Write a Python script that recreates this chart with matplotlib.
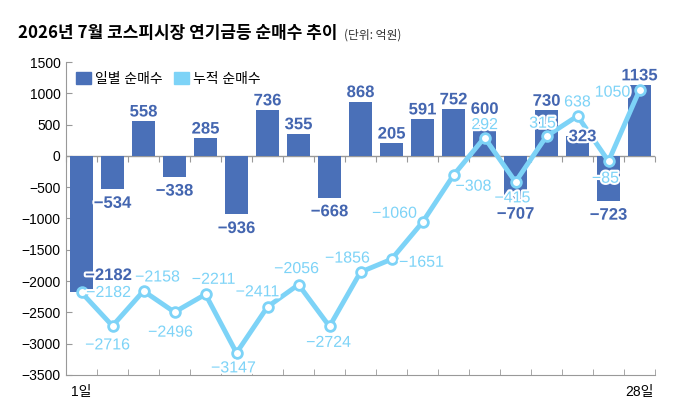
import numpy as np
import matplotlib.pyplot as plt
import matplotlib.patheffects as pe
from matplotlib.patches import Patch

plt.rcParams['font.family'] = ['Liberation Sans Narrow', 'Liberation Sans', 'Noto Sans CJK KR']

# 데이터 (억원)
days = ['1일'] + [''] * 17 + ['28일']
daily = [-2182, -534, 558, -338, 285, -936, 736, 355, -668, 868,
         205, 591, 752, 600, -707, 730, 323, -723, 1135]
cumul = [-2182, -2716, -2158, -2496, -2211, -3147, -2411, -2056, -2724, -1856,
         -1651, -1060, -308, 292, -415, 315, 638, -85, 1050]

bar_c = '#4a70b8'
bar_txt = '#4466b0'
line_c = '#7dd3f7'
halo = [pe.withStroke(linewidth=3, foreground='white')]

# 라벨 위치 보정 (pixel)
line_off = [(27, 0), (-5, -19), (14, 14), (-4, -20), (8, 15), (-3, -15), (-10, 15),
            (-2, 16), (-1, -16), (-13, 14), (30, -3), (-28, 9), (20, -11), (0, 13),
            (-3, -16), (-4, 13), (0, 14), (-3, -17), (-27, -2)]
bar_off = {0: (27, 17), 16: (5, -1)}

fig = plt.figure(figsize=(6.8, 4.16), dpi=100)
ax = fig.add_axes([66/680, 41/416, 589/680, 313/416])

x = np.arange(len(daily))
ax.bar(x, daily, width=0.72, color=bar_c, zorder=2)
ax.plot(x, cumul, color=line_c, lw=3.5, marker='o', ms=7, mfc='white',
        mec=line_c, mew=2, zorder=3)

for i, v in enumerate(daily):
    dx, dy = bar_off.get(i, (0, 9 if v > 0 else -14))
    ax.annotate(f'{v}'.replace('-', '−'), (i, v), xytext=(dx, dy), textcoords='offset pixels',
                ha='center', va='center', fontsize=12, fontweight='bold', color=bar_txt,
                path_effects=halo, zorder=4)

for i, v in enumerate(cumul):
    dx, dy = line_off[i]
    ax.annotate(f'{v}'.replace('-', '−'), (i, v), xytext=(dx, dy), textcoords='offset pixels',
                ha='center', va='center', fontsize=11.5, color=line_c,
                path_effects=halo, zorder=5)

ax.set_xlim(-0.5, len(daily) - 0.5)
ax.set_ylim(-3500, 1500)
ax.set_yticks(np.arange(-3500, 1501, 500))
ax.set_yticklabels([f'{t}'.replace('-', '−') for t in range(-3500, 1501, 500)])
ax.set_xticks(x)
ax.set_xticklabels(days)
ax.set_xticks(np.arange(-0.5, len(daily)), minor=True)
ax.tick_params(axis='x', which='major', length=0, labelsize=10, pad=7)
ax.tick_params(axis='x', which='minor', direction='in', length=4, color='#999999')
ax.tick_params(axis='y', direction='in', length=4, color='#999999', labelsize=10, pad=4)
for s in ['top', 'right']:
    ax.spines[s].set_visible(False)
for s in ['left', 'bottom']:
    ax.spines[s].set_color('#999999')
ax.axhline(0, color='#999999', lw=1, zorder=1)
zero = ax.secondary_xaxis(3500 / 5000)
zero.spines['bottom'].set_visible(False)
zero.spines['top'].set_visible(False)
zero.set_xticks(np.arange(-0.5, len(daily)))
zero.tick_params(direction='in', length=4, color='#999999', labelbottom=False, labeltop=False)

handles = [Patch(color=bar_c), Patch(color=line_c)]
ax.legend(handles, ['일별 순매수', '누적 순매수'], loc='upper left', ncol=2, frameon=False,
          handlelength=1.1, handleheight=1.0, handletextpad=0.3, columnspacing=0.8,
          fontsize=10, bbox_to_anchor=(0.0, 1.0), borderaxespad=0.3)

fig.text(18/680, 1 - 33/416, '2026년 7월 코스피시장 연기금등 순매수 추이', fontsize=12.2,
         fontweight='bold', family=['Noto Sans CJK KR'], va='center', ha='left')
fig.text(344/680, 1 - 35/416, '(단위: 억원)', fontsize=8.5, family=['Noto Sans CJK KR'],
         va='center', ha='left', color='#333333')

fig.savefig('out.png', dpi=100)
